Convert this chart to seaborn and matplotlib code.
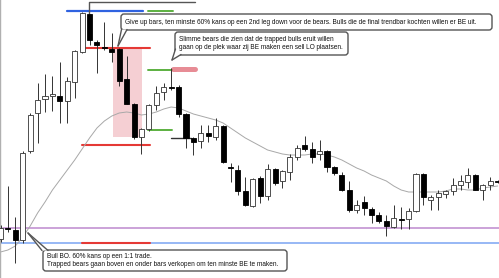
import numpy as np
import pandas as pd
import matplotlib
matplotlib.use("Agg")
import matplotlib.pyplot as plt
import seaborn as sns
from matplotlib.patches import FancyBboxPatch, Rectangle, Polygon
from matplotlib.transforms import IdentityTransform

# ---------------- data (price units) ----------------
opens = [39, 50, 48, 38, 127, 165, 179, 182, 182, 177,
         196, 226, 264, 236, 231, 229, 229, 199, 174, 141,
         149, 173, 186, 191, 191, 164, 140, 137, 145, 141,
         152, 111, 108, 87, 72, 100, 82, 109, 97, 106,
         121, 133, 129, 124, 127, 111, 103, 88, 68, 76,
         69, 63, 57, 51, 59, 59, 67, 104, 78, 81,
         84, 87, 93, 96, 103, 88, 93, 97]
highs = [53, 92, 61, 127, 165, 195, 204, 202, 216, 201,
         228, 266, 264, 238, 256, 245, 230, 222, 175, 150,
         174, 192, 195, 210, 193, 165, 141, 153, 153, 160,
         153, 115, 113, 101, 100, 102, 114, 110, 108, 124,
         133, 142, 136, 138, 128, 112, 106, 97, 78, 82,
         71, 66, 63, 73, 71, 70, 105, 105, 83, 88,
         88, 100, 103, 110, 104, 94, 101, 98]
lows = [36, 46, 15, 35, 125, 135, 166, 167, 155, 155,
        180, 225, 233, 205, 228, 216, 192, 174, 139, 124,
        147, 168, 178, 188, 161, 130, 123, 130, 136, 138,
        115, 96, 83, 72, 71, 75, 78, 93, 90, 98,
        118, 127, 115, 118, 106, 103, 87, 66, 65, 63,
        55, 55, 42, 50, 49, 49, 66, 73, 68, 68,
        80, 83, 88, 90, 88, 78, 88, 95]
closes = [50, 49, 38, 125, 163, 178, 182, 184, 177, 197,
          227, 265, 238, 233, 230, 226, 197, 174, 141, 149,
          173, 185, 191, 190, 164, 140, 136, 145, 142, 152,
          116, 110, 87, 73, 99, 82, 109, 95, 107, 121,
          130, 129, 121, 127, 111, 105, 88, 68, 73, 70,
          63, 57, 52, 60, 58.5, 67, 104, 81, 81, 85,
          87, 93, 97, 103, 88, 93, 97, 96]
ema = [26, 28, 32, 41, 52, 65, 76, 88, 98, 108,
       118, 129, 140, 150, 157, 162, 165, 166, 165, 163,
       164, 166, 169, 171, 170, 167, 164, 162, 160, 158,
       155, 150, 145, 140, 136, 132, 128, 126, 124, 123,
       123, 123, 124, 124, 123, 121, 118, 114, 110, 107,
       103, 100, 97, 92, 88, 86, 86, 86, 86, 86,
       87, 89, 89, 88, 88, 90, 91, 92]

purple_level = 50
blue_level = 35
red_levels = [230, 133, 35]
blue_top_level = 267.5
green_levels = [267, 208, 148]
red_zone_level = 209
pink_zone = (141, 229)

text_giveup = ("Give up bars, ten minste 60% kans op een 2nd leg down voor de bears. "
               "Bulls die de final trendbar kochten willen er BE uit.")
text_slimme = ("Slimme bears die zien dat de trapped bulls eruit willen\n"
               "gaan op de plek waar zij BE maken een sell LO plaatsen.")
text_bull = ("Bull BO. 60% kans op een 1:1 trade.\n"
             "Trapped bears gaan boven en onder bars verkopen om ten minste BE te maken.")

# ---------------- figure ----------------
sns.set_theme(style="white")
plt.rcParams['font.family'] = ['Liberation Sans', 'DejaVu Sans']

W, H = 499, 278
fig = plt.figure(figsize=(W / 100, H / 100), dpi=100)
fig.patch.set_facecolor("white")
ax = fig.add_axes([0, 0, 1, 1])
ax.set_facecolor("white")

n = len(opens)
df = pd.DataFrame(dict(i=np.arange(n), o=opens, h=highs, l=lows, c=closes, ema=ema))

step = 7.42
xmin = -0.5 / step
ax.set_xlim(xmin, xmin + W / step)
ax.set_ylim(0, H)

# pink zone
ax.add_patch(Rectangle((15.16, pink_zone[0]), 19.07 - 15.16, pink_zone[1] - pink_zone[0],
                       facecolor="#f3c4c8", edgecolor="none", alpha=0.8, zorder=0.5))

# horizontal levels
ax.axhline(purple_level, xmin=0.006, xmax=1, color="#c79bd6", lw=1.3, zorder=1)
ax.axhline(blue_level, color="#8fb2f4", lw=1.3, zorder=1)
for lv in red_levels:
    ax.plot([11.0, 20.1], [lv, lv], color="#e53935", lw=1.5, zorder=1.2)
ax.plot([8.96, 19.2], [blue_top_level] * 2, color="#2f62e0", lw=1.6, zorder=1.2)
ax.plot([19.9, 23.25], [green_levels[0]] * 2, color="#5cb040", lw=1.4, zorder=1.2)
for lv in green_levels[1:]:
    ax.plot([19.9, 23.1], [lv, lv], color="#5cb040", lw=1.4, zorder=1.2)
ax.plot([23.3, 26.2], [red_zone_level] * 2, color="#e06672", lw=3.6, alpha=0.75,
        solid_capstyle="round", zorder=1.2)
ax.plot([22.98, 25.67], [140, 140], color="#333333", lw=1.0, zorder=1.2)
# connector at top
ax.plot([11.93, 11.93, 26.2], [264, 276, 276], color="#555555", lw=1.0, zorder=1.2)

# EMA
sns.lineplot(data=df, x="i", y="ema", ax=ax, color="#a8a8a8", lw=0.7, zorder=2)

# candles
ax.vlines(df["i"], df["l"], df["h"], color="#333333", lw=0.7, zorder=3)
bottom = np.minimum(df["o"], df["c"])
height = np.maximum(np.abs(df["c"] - df["o"]), 1.0)
bull = df["c"] > df["o"]
ax.bar(df["i"][bull], height[bull], bottom=bottom[bull], width=0.68,
       color="white", edgecolor="#333333", linewidth=0.6, zorder=4)
ax.bar(df["i"][~bull], height[~bull], bottom=bottom[~bull], width=0.68,
       color="black", edgecolor="black", linewidth=0.6, zorder=4)

ax.set_xticks([])
ax.set_yticks([])
for s in ["top", "right", "bottom"]:
    ax.spines[s].set_visible(False)
ax.spines["left"].set_color("#b0b0b0")
ax.spines["left"].set_linewidth(1.0)

ax.set_xlabel("")
ax.set_ylabel("")

# ---------------- callouts (pixel layout) ----------------
T = IdentityTransform()


def P(x, y):
    return (x, H - y)


def callout(x0, y0, x1, y1, tri, text, fs=4.7):
    box = FancyBboxPatch(P(x0, y1), x1 - x0, y1 - y0,
                         boxstyle="round,pad=0,rounding_size=3",
                         transform=T, facecolor="white", edgecolor="#555555",
                         linewidth=1.0, zorder=10)
    fig.patches.append(box)
    poly = Polygon([P(*p) for p in tri], closed=True, transform=T,
                   facecolor="white", edgecolor="none", zorder=11)
    fig.patches.append(poly)
    for a, b in [(tri[0], tri[1]), (tri[1], tri[2])]:
        fig.lines.append(matplotlib.lines.Line2D([P(*a)[0], P(*b)[0]], [P(*a)[1], P(*b)[1]],
                                                  transform=T, color="#555555", lw=1.0, zorder=12))
    fig.text(P(x0 + 4, 0)[0] / W, 1 - ((y0 + y1) / 2) / H, text, fontsize=fs,
             va="center", ha="left", color="#111111", zorder=13, linespacing=1.15)


callout(121, 14, 492, 30, [(121.5, 29.5), (118, 46), (127, 29.5)], text_giveup)
callout(175, 32, 348, 55, [(175.5, 49), (172, 60), (181, 54.5)], text_slimme)
callout(43, 250, 287, 271, [(42, 250.5), (28, 233), (48, 250.5)], text_bull)

fig.savefig("out.png", dpi=100, facecolor="white")
